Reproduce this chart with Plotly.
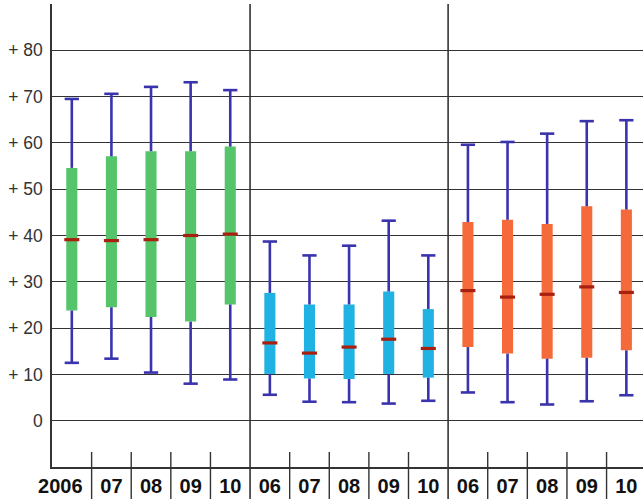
import plotly.graph_objects as go

# ---------------- data ----------------
groups = ["A", "B", "C"]
year_labels = ["2006", "07", "08", "09", "10",
               "06", "07", "08", "09", "10",
               "06", "07", "08", "09", "10"]
group_index = [0] * 5 + [1] * 5 + [2] * 5

whisker_low = [12.5, 13.4, 10.4, 8.0, 8.9,
               5.6, 4.1, 4.0, 3.7, 4.3,
               6.1, 4.0, 3.5, 4.2, 5.5]
q1 = [23.8, 24.5, 22.4, 21.4, 25.1,
      10.1, 9.1, 9.0, 10.1, 9.3,
      15.9, 14.5, 13.4, 13.6, 15.2]
median = [39.1, 38.9, 39.1, 40.0, 40.3,
          16.8, 14.6, 15.9, 17.6, 15.6,
          28.1, 26.7, 27.3, 28.9, 27.7]
q3 = [54.6, 57.1, 58.2, 58.2, 59.2,
      27.6, 25.1, 25.1, 27.9, 24.1,
      42.9, 43.4, 42.5, 46.3, 45.6]
whisker_high = [69.5, 70.6, 72.1, 73.1, 71.4,
                38.7, 35.7, 37.8, 43.2, 35.7,
                59.6, 60.2, 62.0, 64.7, 64.9]

y_tick_values = [-10, 0, 10, 20, 30, 40, 50, 60, 70, 80, 90]
y_tick_text = ["", "0", "+ 10", "+ 20", "+ 30", "+ 40", "+ 50", "+ 60", "+ 70", "+ 80", ""]

# ---------------- styles ----------------
group_colors = ["#55c46a", "#1fb2e2", "#f46a3b"]
whisker_color = "#3a33ae"
median_color = "#a8200f"
grid_color = "#333333"
box_width = 0.28
cap_half = 0.18
med_half = 0.19

xs = [i + 0.5 for i in range(len(year_labels))]
# the wide first label ("2006") sits a little left of its slot centre
label_pos = [x - (0.29 if len(lab) > 2 else 0.0) for x, lab in zip(xs, year_labels)]

fig = go.Figure()

# boxes (bars)
for g in range(len(groups)):
    idx = [i for i in range(len(xs)) if group_index[i] == g]
    fig.add_trace(go.Bar(
        x=[xs[i] for i in idx],
        y=[q3[i] - q1[i] for i in idx],
        base=[q1[i] for i in idx],
        width=box_width,
        marker=dict(color=group_colors[g], line=dict(width=0)),
        showlegend=False, hoverinfo="skip",
    ))

# whiskers (outside boxes) + caps
wx, wy = [], []
for i, x in enumerate(xs):
    wx += [x, x, None, x, x, None]
    wy += [whisker_low[i], q1[i], None, q3[i], whisker_high[i], None]
    wx += [x - cap_half, x + cap_half, None, x - cap_half, x + cap_half, None]
    wy += [whisker_low[i], whisker_low[i], None, whisker_high[i], whisker_high[i], None]
fig.add_trace(go.Scatter(x=wx, y=wy, mode="lines",
                         line=dict(color=whisker_color, width=2.6),
                         showlegend=False, hoverinfo="skip"))

# medians
mx, my = [], []
for i, x in enumerate(xs):
    mx += [x - med_half, x + med_half, None]
    my += [median[i], median[i], None]
fig.add_trace(go.Scatter(x=mx, y=my, mode="lines",
                         line=dict(color=median_color, width=3.2),
                         showlegend=False, hoverinfo="skip"))

# separators
shapes = []
for b in range(1, len(xs)):
    if b % 5 == 0:
        shapes.append(dict(type="line", xref="x", yref="paper", x0=b, x1=b,
                           y0=-0.1, y1=1, line=dict(color=grid_color, width=1.6),
                           layer="above"))
    else:
        shapes.append(dict(type="line", xref="x", yref="paper", x0=b, x1=b,
                           y0=-0.1, y1=0.0324, line=dict(color=grid_color, width=1.4),
                           layer="above"))

fig.update_layout(
    width=643, height=499,
    margin=dict(l=52, r=0, t=4, b=32, autoexpand=False),
    paper_bgcolor="white", plot_bgcolor="white",
    barmode="overlay",
    shapes=shapes,
    xaxis=dict(
        range=[0, 14.92], tickmode="array", tickvals=label_pos, ticktext=year_labels,
        tickangle=0, automargin=False,
        showgrid=False, zeroline=False,
        showline=True, linecolor=grid_color, linewidth=1.6,
        ticks="",
        tickfont=dict(family="Liberation Sans", size=20, color="#111111", weight="bold"),
    ),
    yaxis=dict(
        range=[-10, 90], tickmode="array", tickvals=y_tick_values, ticktext=y_tick_text,
        automargin=False,
        showgrid=True, gridcolor=grid_color, gridwidth=1.4, zeroline=False,
        showline=True, linecolor=grid_color, linewidth=1.6,
        ticks="outside", ticklen=4, tickcolor="rgba(0,0,0,0)",
        tickfont=dict(family="Liberation Sans", size=17.5, color="#333333"),
    ),
)

fig.write_html("out.html", config={"displayModeBar": False},
               post_script="document.body.style.margin='0';document.body.style.overflow='hidden';")
